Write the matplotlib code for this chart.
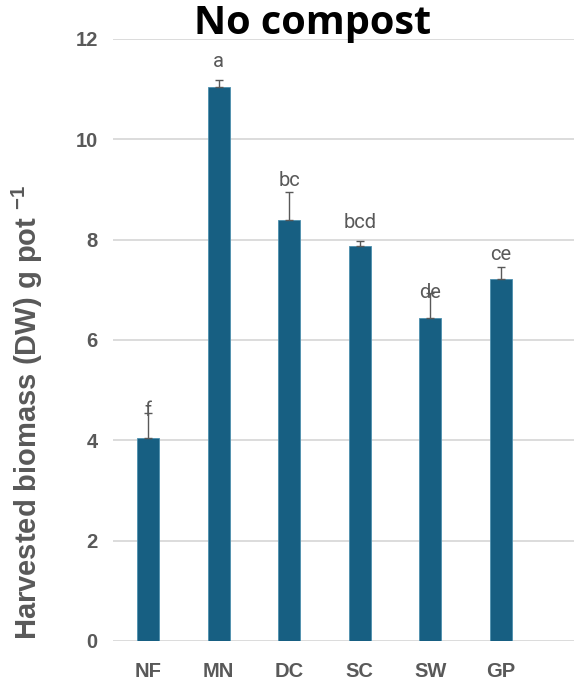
import matplotlib
matplotlib.use('Agg')
import matplotlib.pyplot as plt

# 処理区ごとの収量
categories = ['NF', 'MN', 'DC', 'SC', 'SW', 'GP']
biomass = [4.05, 11.05, 8.40, 7.88, 6.43, 7.22]
errors = [0.50, 0.13, 0.54, 0.09, 0.50, 0.24]
letters = ['f', 'a', 'bc', 'bcd', 'de', 'ce']
letter_y = [4.40, 11.36, 8.99, 8.15, 6.76, 7.51]
yticks = [0, 2, 4, 6, 8, 10, 12]

bar_color = '#175f82'
text_gray = '#595959'

plt.rcParams['font.family'] = ['Liberation Sans', 'DejaVu Sans']
plt.rcParams['mathtext.fontset'] = 'custom'
plt.rcParams['mathtext.rm'] = 'Liberation Sans:bold'
plt.rcParams['mathtext.bf'] = 'Liberation Sans:bold'

fig = plt.figure(figsize=(5.74, 6.84), dpi=100)
ax = fig.add_axes([0.197, 0.063, 0.803, 0.880])

x = list(range(len(categories)))
ax.bar(x, biomass, width=0.31, color=bar_color, edgecolor='#4d8fae', linewidth=0.6, zorder=3)
ax.errorbar(x, biomass, yerr=[[0] * len(errors), errors], fmt='none',
            ecolor=text_gray, elinewidth=1.0, capsize=3, capthick=1.0, zorder=4)

for xi, lab, ly in zip(x, letters, letter_y):
    ax.text(xi, ly, lab, ha='center', va='bottom', fontsize=14.5, color=text_gray,
            family=['Roboto', 'DejaVu Sans'], zorder=5)

ax.set_xlim(-0.5, 6.04)
ax.set_ylim(0, 12)
ax.set_yticks(yticks)
ax.set_xticks(x)
ax.set_xticklabels(categories)
ax.grid(axis='y', color='#d9d9d9', linewidth=1.3, zorder=0)
ax.set_axisbelow(True)
for s in ax.spines.values():
    s.set_visible(False)
ax.tick_params(axis='both', length=0, colors=text_gray, labelsize=14.5)
ax.tick_params(axis='x', pad=15)
ax.tick_params(axis='y', pad=11)
for t in ax.get_xticklabels() + ax.get_yticklabels():
    t.set_fontweight('bold')

ax.set_ylabel(r'Harvested biomass (DW) g pot $^{-1}$', fontsize=21, fontweight='bold',
              color=text_gray)
# Excelの軸ラベルは少し下寄り
ax.yaxis.set_label_coords(-0.147, 0.38)

fig.text(0.545, 0.966, 'No compost', ha='center', va='center', fontsize=28.5,
         fontweight='bold', family=['Open Sans', 'DejaVu Sans'], color='black')

fig.savefig('out.png', dpi=100)
